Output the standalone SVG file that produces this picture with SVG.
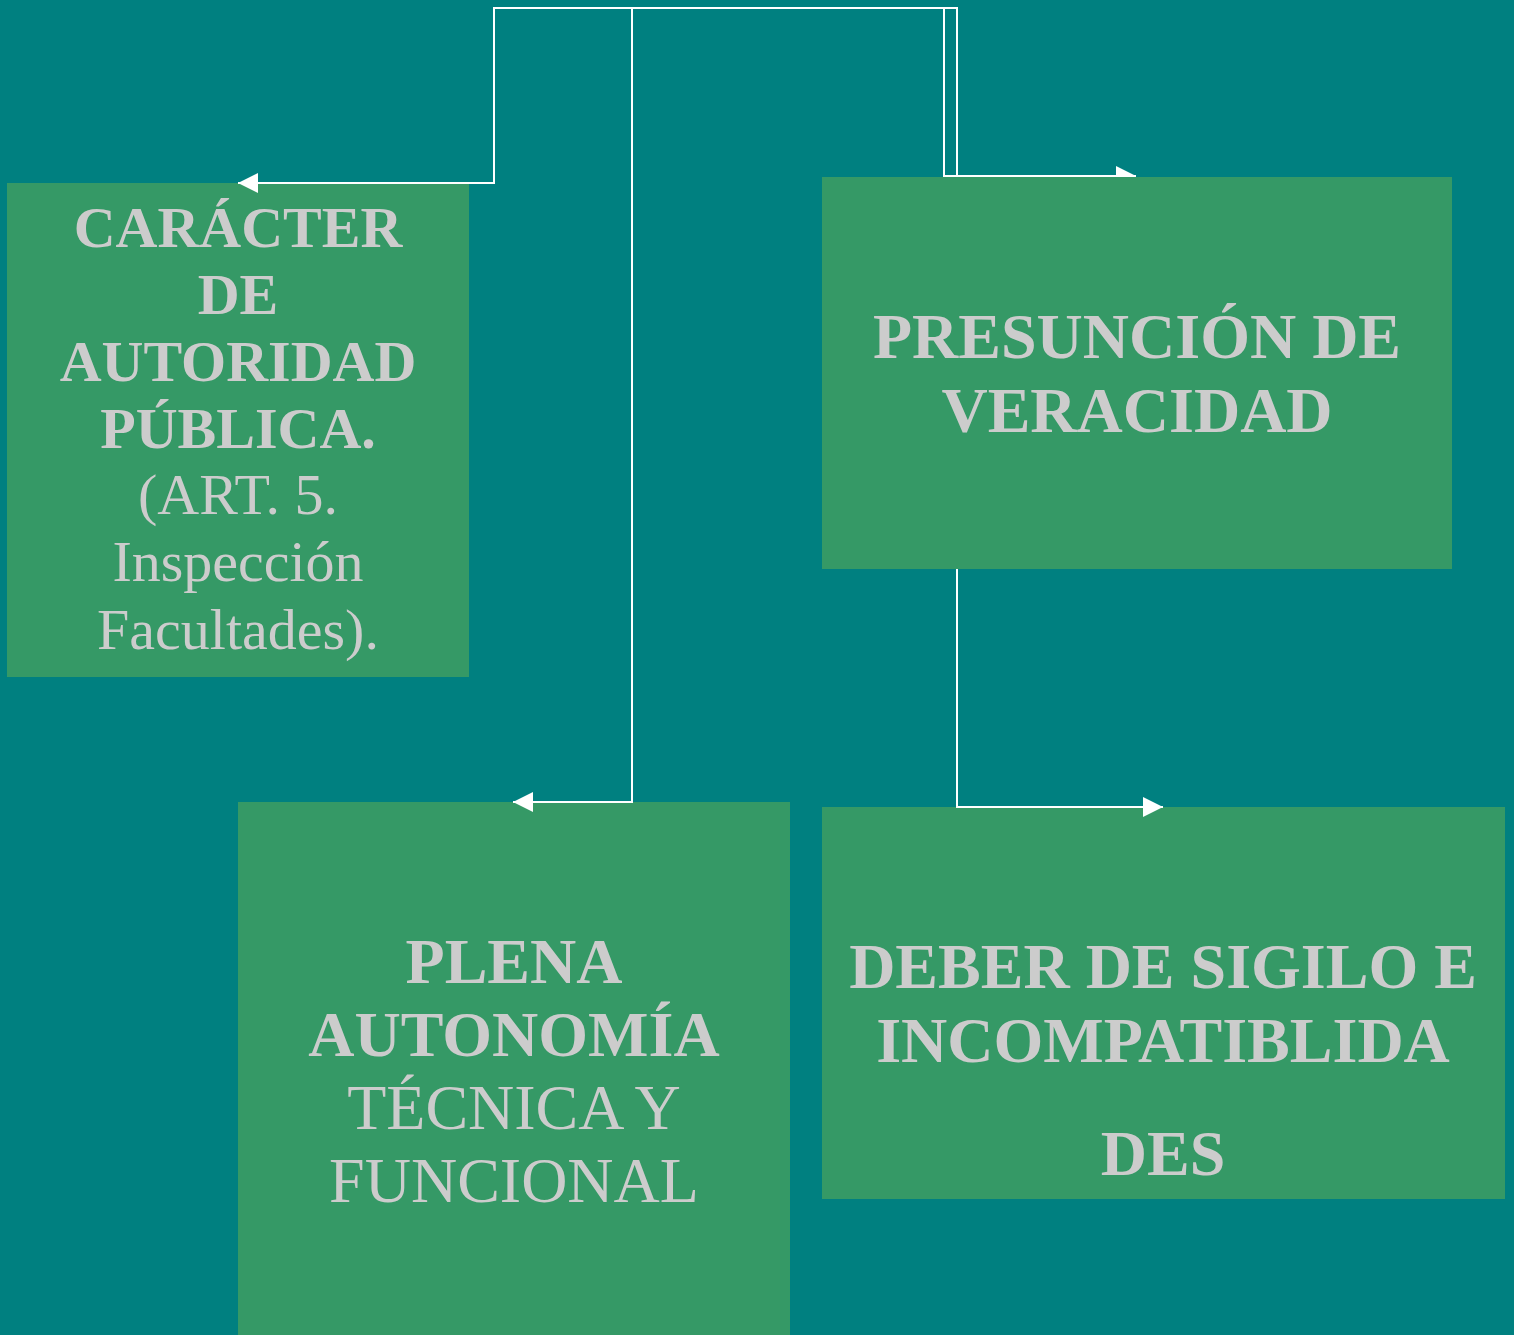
<svg xmlns="http://www.w3.org/2000/svg" width="1514" height="1335" viewBox="0 0 1514 1335">
<style>
.box{fill:#359966}
.t{font-family:"Liberation Serif","Times New Roman",serif;fill:#cccccc;text-anchor:middle}
.b{font-weight:bold}
.c{fill:none;stroke:#ffffff;stroke-width:2}
</style>
<defs>
<marker id="arr" markerUnits="userSpaceOnUse" markerWidth="20" markerHeight="20" refX="20" refY="10" orient="auto" viewBox="0 0 20 20">
<path d="M0,0 L20,10 L0,20 Z" fill="#ffffff"/>
</marker>
</defs>
<rect x="0" y="0" width="1514" height="1335" fill="#008080"/>
<g id="node-caracter">
<rect class="box" x="7" y="183" width="462" height="494"/>
<text class="t b" font-size="58" x="238" y="247">CARÁCTER</text>
<text class="t b" font-size="58" x="238" y="314">DE</text>
<text class="t b" font-size="58" x="238" y="381">AUTORIDAD</text>
<text class="t b" font-size="58" x="238" y="448">PÚBLICA.</text>
<text class="t" font-size="58" x="238" y="514">(ART. 5.</text>
<text class="t" font-size="58" x="238" y="581">Inspección</text>
<text class="t" font-size="58" x="238" y="649">Facultades).</text>
</g>
<g id="node-plena">
<rect class="box" x="238" y="802" width="552" height="533"/>
<text class="t b" font-size="64" x="514" y="983">PLENA</text>
<text class="t b" font-size="64" x="514" y="1056">AUTONOMÍA</text>
<text class="t" font-size="64" x="514" y="1129">TÉCNICA Y</text>
<text class="t" font-size="64" x="514" y="1202">FUNCIONAL</text>
</g>
<g id="node-deber">
<rect class="box" x="822" y="807" width="683" height="392"/>
<text class="t b" font-size="64" x="1163" y="988">DEBER DE SIGILO E</text>
<text class="t b" font-size="64" x="1163" y="1062">INCOMPATIBLIDA</text>
<text class="t b" font-size="64" x="1163" y="1175">DES</text>
</g>
<g id="connectors">
<path class="c" d="M957 177 V8 H494 V183 H238" marker-end="url(#arr)"/>
<path class="c" d="M944 177 V8 H632 V802 H513" marker-end="url(#arr)"/>
<path class="c" d="M944 176 H1136" marker-end="url(#arr)"/>
<path class="c" d="M957 569 V807 H1163" marker-end="url(#arr)"/>
</g>
<g id="node-presuncion">
<rect class="box" x="822" y="177" width="630" height="392"/>
<text class="t b" font-size="64" x="1137" y="358">PRESUNCIÓN DE</text>
<text class="t b" font-size="64" x="1137" y="432">VERACIDAD</text>
</g>
</svg>
